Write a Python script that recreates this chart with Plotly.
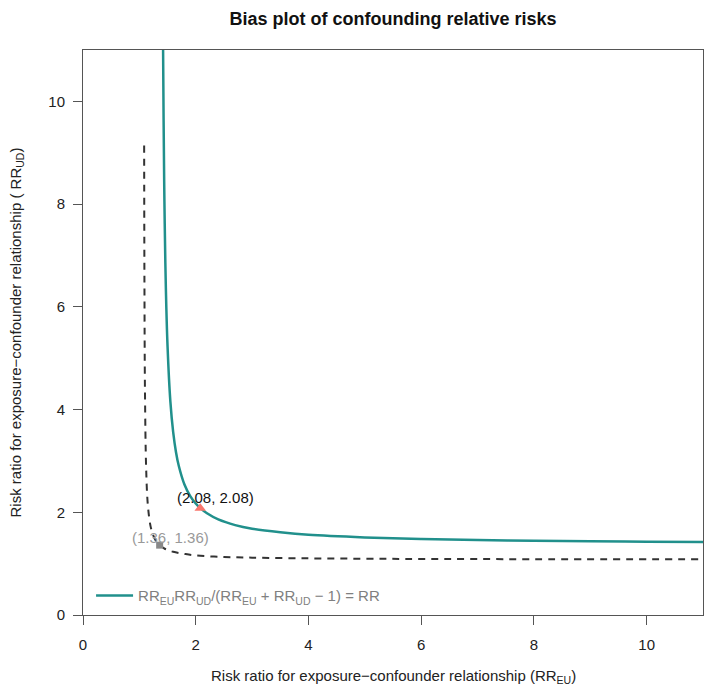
import plotly.graph_objects as go

# ---- data ----
# solid curve: RR_EU * RR_UD / (RR_EU + RR_UD - 1) = RR  (point estimate)
est_x = [1.421, 1.43, 1.44, 1.45, 1.47, 1.5, 1.55, 1.6, 1.65, 1.7, 1.8, 1.9, 2.0,
         2.08, 2.2, 2.4, 2.7, 3.0, 3.5, 4.0, 5.0, 6.0, 7.0, 8.0, 9.0, 10.0, 11.0]
est_y = [11.0, 9.65, 8.48, 7.61, 6.37, 5.23, 4.16, 3.56, 3.17, 2.90, 2.54, 2.32, 2.17,
         2.08, 1.98, 1.86, 1.75, 1.68, 1.61, 1.56, 1.51, 1.48, 1.46, 1.445, 1.435, 1.428, 1.421]
# dashed curve: same relation for the confidence limit
ci_x = [1.085, 1.09, 1.10, 1.12, 1.15, 1.2, 1.25, 1.3, 1.36, 1.45, 1.6, 1.8, 2.0,
        2.5, 3.0, 4.0, 5.0, 6.0, 8.0, 11.0]
ci_y = [9.14, 6.45, 4.30, 2.87, 2.15, 1.72, 1.54, 1.43, 1.36, 1.29, 1.23, 1.19, 1.16,
        1.13, 1.117, 1.103, 1.096, 1.091, 1.087, 1.083]
# E-values
evalue_point = [2.08, 2.08]
evalue_ci = [1.36, 1.36]
tick_vals = [0, 2, 4, 6, 8, 10]
axis_range = [0, 11]

TEAL = "#21908C"
FONT = "Liberation Sans, Arial, sans-serif"

fig = go.Figure()
fig.add_trace(go.Scatter(
    x=ci_x, y=ci_y, mode="lines", line=dict(color="#333333", width=2, dash="7px,6px"),
    line_shape="spline", showlegend=False, hoverinfo="skip"))
fig.add_trace(go.Scatter(
    x=est_x, y=est_y, mode="lines", line=dict(color=TEAL, width=2.5),
    line_shape="spline",
    name="RR<sub>EU</sub>RR<sub>UD</sub>/(RR<sub>EU</sub> + RR<sub>UD</sub> − 1) = RR",
    showlegend=True))
fig.add_trace(go.Scatter(
    x=[evalue_point[0]], y=[evalue_point[1]], mode="markers",
    marker=dict(symbol="triangle-up", size=10, color="#F8766D"), showlegend=False))
fig.add_trace(go.Scatter(
    x=[evalue_ci[0]], y=[evalue_ci[1]], mode="markers",
    marker=dict(symbol="square", size=7, color="#888888"), showlegend=False))

fig.add_annotation(x=evalue_point[0] + 0.27, y=evalue_point[1] + 0.2,
                   text=f"({evalue_point[0]:.2f}, {evalue_point[1]:.2f})", showarrow=False,
                   font=dict(size=15, color="#111111"))
fig.add_annotation(x=evalue_ci[0] + 0.19, y=evalue_ci[1] + 0.14,
                   text=f"({evalue_ci[0]:.2f}, {evalue_ci[1]:.2f})", showarrow=False,
                   font=dict(size=15, color="#999999"))

# axis titles
fig.add_annotation(xref="paper", yref="paper", x=0.5, y=-0.108, yanchor="middle",
                   text="Risk ratio for exposure−confounder relationship (RR<sub>EU</sub>)",
                   showarrow=False, font=dict(size=15, color="#222222"))
fig.add_annotation(xref="paper", yref="paper", x=-0.108, y=0.5, xanchor="center",
                   textangle=-90,
                   text="Risk ratio for exposure−confounder relationship ( RR<sub>UD</sub>)",
                   showarrow=False, font=dict(size=15, color="#222222"))

axis_common = dict(range=axis_range, tickvals=tick_vals, ticks="outside", ticklen=9,
                   tickcolor="#555555", showline=True, linecolor="#555555", linewidth=1,
                   mirror=True, showgrid=False, zeroline=False,
                   tickfont=dict(size=15, color="#222222"))
fig.update_xaxes(**axis_common, ticklabelstandoff=7)
fig.update_yaxes(**axis_common, ticklabelstandoff=5)

fig.update_layout(
    width=709, height=694,
    margin=dict(l=83, r=6, t=50, b=79),
    paper_bgcolor="white", plot_bgcolor="white",
    font=dict(family=FONT, size=15, color="#222222"),
    title=dict(text="<b>Bias plot of confounding relative risks</b>", x=0.5, xref="paper",
               xanchor="center", y=1 - 19 / 694, yref="container", yanchor="middle",
               font=dict(size=18, color="#111111")),
    legend=dict(x=0.013, y=0.034, xanchor="left", yanchor="middle",
                bgcolor="rgba(0,0,0,0)", borderwidth=0, itemwidth=37,
                font=dict(size=15, color="#808080")),
)

fig.write_html("out.html")
